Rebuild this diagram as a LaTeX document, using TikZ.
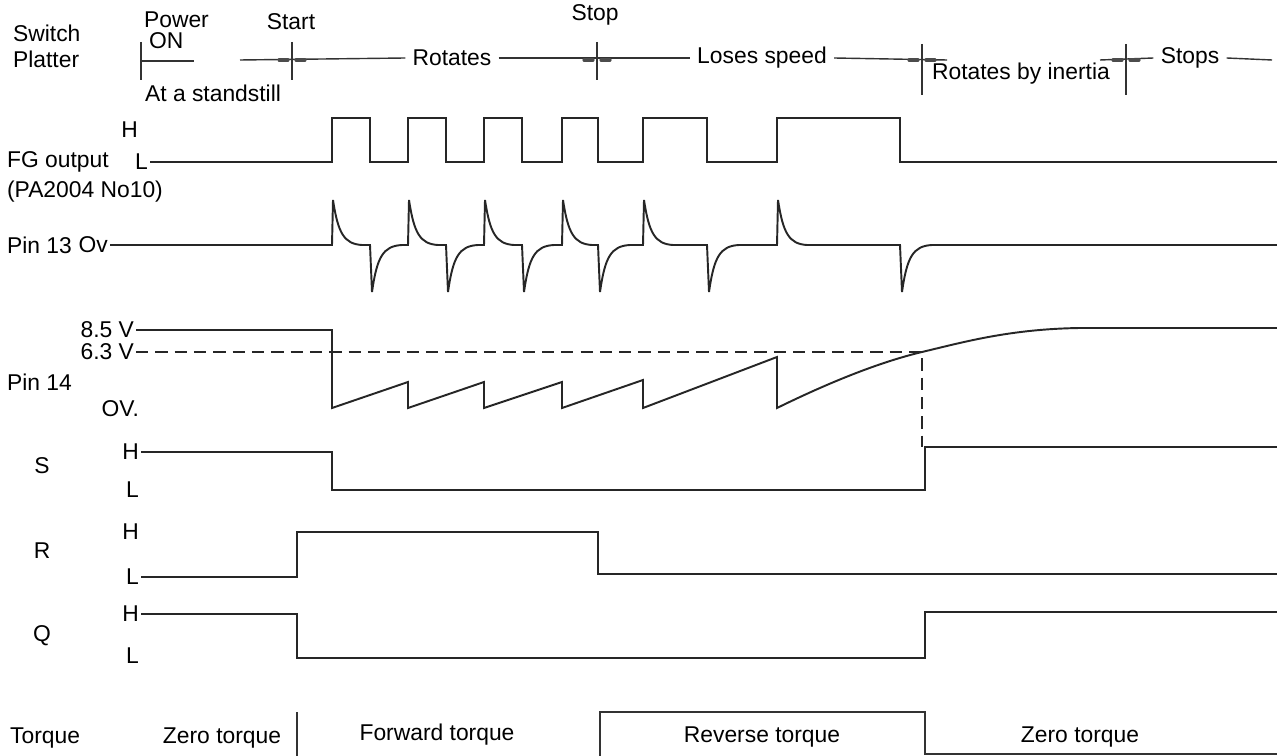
\documentclass[tikz,border=0pt]{standalone}
\usepackage{fontspec}
\setmainfont{Liberation Sans}
\usepackage{tikz}
\usetikzlibrary{positioning}
\tikzstyle{lbl} = [inner sep=1pt, font=\fontsize{13}{15}\selectfont]
\tikzstyle{wave} = [line width=1.1pt, black!85, line join=miter]
\tikzstyle{phase} = [line width=0.8pt, black!80]
\tikzstyle{tick} = [line width=1.8pt, black!70, line cap=round]
\tikzstyle{guide} = [line width=0.9pt, black!85, dash pattern=on 7pt off 4pt]

\begin{document}
\begin{tikzpicture}[x=0.02cm, y=-0.02cm]
    \useasboundingbox (0,0) rectangle (1277,756);

    % Switch / platter row
    \node (sw) [lbl, anchor=west] at (11,33) {Switch};
    \node (pl) [lbl, anchor=west] at (11,59) {Platter};
    \node (pow) [lbl, anchor=west] at (142,20) {Power};
    \node (on) [lbl, anchor=west] at (147,41) {ON};
    \node (still) [lbl, anchor=west] at (143,93) {At a standstill};
    \node (start) [lbl] at (291,22) {Start};
    \node (stop) [lbl] at (595,15) {Stop};
    \node (rot) [lbl, inner xsep=4pt] at (452,58) {Rotates};
    \node (lose) [lbl, inner xsep=4pt] at (762,58) {Loses speed};
    \node (inert) [lbl, anchor=west] at (930,74) {Rotates by inertia};
    \node (stops) [lbl, inner xsep=4pt] at (1190,58) {Stops};

    \draw [phase] (141,42) -- (141,80);
    \draw [phase] (141,61) -- (194,61);
    \draw [phase] (240,60) -- (rot.west);
    \draw [phase] (rot.east) -- (lose.west);
    \draw [phase] (lose.east) -- (947,60);
    \draw [phase] (1100,60) -- (stops.west);
    \draw [phase] (stops.east) -- (1272,60);
    \foreach \m/\lo/\hi in {292/42/80, 597/42/80, 922/44/95, 1126/44/95} {
        \draw [phase] (\m,\lo) -- (\m,\hi);
        \draw [tick] (\m-13,60) -- (\m-4,60);
        \draw [tick] (\m+4,60) -- (\m+13,60);
    }

    % FG output
    \node (fgH) [lbl, anchor=east] at (140,130) {H};
    \node (fg) [lbl, anchor=west] at (5,162) {FG output};
    \node (fgL) [lbl, anchor=east] at (150,162) {L};
    \node (pa) [lbl, anchor=west] at (5,192) {(PA2004 No10)};
    \draw [wave] (fgL.east) -- (332,162) -- (332,118) -- (370,118) -- (370,162)
        -- (408,162) -- (408,118) -- (446,118) -- (446,162)
        -- (484,162) -- (484,118) -- (522,118) -- (522,162)
        -- (562,162) -- (562,118) -- (598,118) -- (598,162)
        -- (643,162) -- (643,118) -- (707,118) -- (707,162)
        -- (777,162) -- (777,118) -- (900,118) -- (900,162) -- (1277,162);

    % Pin 13
    \node (p13) [lbl, anchor=west] at (5,245) {Pin 13};
    \node (ov13) [lbl, anchor=east] at (110,245) {Ov};
    \draw [wave] (ov13.east)
        foreach \ua/\da in {332/370, 408/446, 484/522, 562/598, 643/707, 777/900} {
            -- (\ua,245) -- (\ua+1,200) .. controls (\ua+6,233) and (\ua+12,244) .. (\ua+30,245)
            -- (\da,245) -- (\da+2,292) .. controls (\da+7,257) and (\da+13,246) .. (\da+32,245)
        } -- (1277,245);

    % Pin 14
    \node (p14) [lbl, anchor=west] at (5,382) {Pin 14};
    \node (v85) [lbl, anchor=east] at (136,330) {8.5 V};
    \node (v63) [lbl, anchor=east] at (136,352) {6.3 V};
    \node (ov14) [lbl, anchor=east] at (141,409) {OV.};
    \draw [guide] (v63.east) -- (922,352) -- (922,447);
    \draw [wave] (v85.east) -- (332,330) -- (332,408) -- (408,382) -- (408,408)
        -- (484,382) -- (484,408) -- (562,382) -- (562,408) -- (643,380) -- (643,408)
        -- (777,357) -- (777,408) .. controls (830,382) and (880,362) .. (922,352)
        .. controls (964,342) and (1010,329) .. (1080,328) -- (1277,328);

    % S
    \node (s) [lbl] at (42,466) {S};
    \node (sH) [lbl, anchor=east] at (141,452) {H};
    \node (sL) [lbl, anchor=east] at (141,490) {L};
    \draw [wave] (sH.east) -- (332,452) -- (332,490) -- (925,490) -- (925,447) -- (1277,447);

    % R
    \node (r) [lbl] at (42,551) {R};
    \node (rH) [lbl, anchor=east] at (141,532) {H};
    \node (rL) [lbl, anchor=east] at (141,577) {L};
    \draw [wave] (rL.east) -- (297,577) -- (297,532) -- (598,532) -- (598,574) -- (1277,574);

    % Q
    \node (q) [lbl] at (42,636) {Q};
    \node (qH) [lbl, anchor=east] at (141,614) {H};
    \node (qL) [lbl, anchor=east] at (141,656) {L};
    \draw [wave] (qH.east) -- (297,614) -- (297,658) -- (925,658) -- (925,612) -- (1277,612);

    % Torque
    \node (tq) [lbl, anchor=west] at (8,738) {Torque};
    \node (zero1) [lbl] at (222,738) {Zero torque};
    \node (fwd) [lbl] at (437,735) {Forward torque};
    \node (rev) [lbl] at (762,737) {Reverse torque};
    \node (zero2) [lbl] at (1080,737) {Zero torque};
    \draw [phase] (297,712) -- (297,756);
    \draw [phase] (600,756) -- (600,712) -- (925,712) -- (925,754) -- (1277,754);
\end{tikzpicture}
\end{document}
